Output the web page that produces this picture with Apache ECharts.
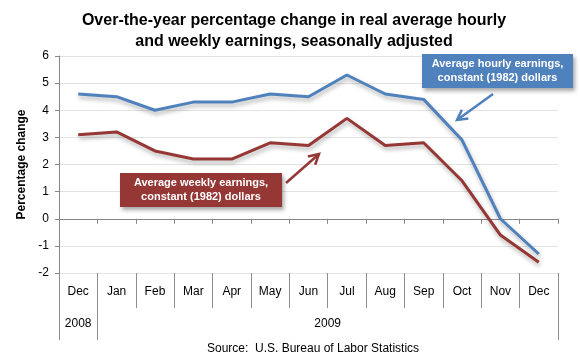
<!DOCTYPE html>
<html>
<head>
<meta charset="utf-8">
<script src="https://cdn.jsdelivr.net/npm/echarts@6/dist/echarts.min.js"></script>
<style>html,body{margin:0;padding:0;background:#fff}#c{width:580px;height:360px}</style>
</head>
<body>
<div id="c"></div>
<script>
var months = ['Dec','Jan','Feb','Mar','Apr','May','Jun','Jul','Aug','Sep','Oct','Nov','Dec'];
var hourly = [4.6, 4.5, 4.0, 4.3, 4.3, 4.6, 4.5, 5.3, 4.6, 4.4, 2.9, 0.0, -1.3];
var weekly = [3.1, 3.2, 2.5, 2.2, 2.2, 2.8, 2.7, 3.7, 2.7, 2.8, 1.4, -0.6, -1.6];
var yearLabels = ['2008', '2009'];
var yTicks = [-2, -1, 0, 1, 2, 3, 4, 5, 6];

var FONT = 'Liberation Sans, Arial, sans-serif';
var chart = echarts.init(document.getElementById('c'), null, {renderer: 'canvas'});

function arrow(x1, y1, x2, y2, color) {
  var dx = x2 - x1, dy = y2 - y1, L = Math.sqrt(dx*dx + dy*dy);
  var ux = dx / L, uy = dy / L, px = -uy, py = ux, hl = 10, hw = 5.5;
  return [
    {type: 'line', shape: {x1: x1, y1: y1, x2: x2, y2: y2}, style: {stroke: color, lineWidth: 2.5}, z: 50},
    {type: 'polyline', shape: {points: [
      [x2 - ux*hl + px*hw, y2 - uy*hl + py*hw], [x2, y2], [x2 - ux*hl - px*hw, y2 - uy*hl - py*hw]
    ]}, style: {stroke: color, lineWidth: 2.5, fill: null}, z: 50}
  ];
}

function box(x, y, w, h, color, text) {
  return [
    {type: 'rect', shape: {x: x, y: y, width: w, height: h},
      style: {fill: color, shadowBlur: 4, shadowOffsetX: 2, shadowOffsetY: 3, shadowColor: 'rgba(0,0,0,0.35)'}, z: 50},
    {type: 'text', x: x + w/2, y: y + h/2, z: 51,
      style: {text: text, fill: '#fff', font: 'bold 11px ' + FONT, align: 'center', verticalAlign: 'middle', lineHeight: 14}}
  ];
}

var graphics = []
  .concat(box(422, 54, 151, 34, '#4F81BD', 'Average hourly earnings,\nconstant (1982) dollars'))
  .concat(arrow(493, 94, 457, 120, '#4F81BD'))
  .concat(box(120, 173, 162, 34, '#953735', 'Average weekly earnings,\nconstant (1982) dollars'))
  .concat(arrow(286, 183, 319, 154, '#953735'));

var shadow = {shadowBlur: 4, shadowOffsetX: 1, shadowOffsetY: 3, shadowColor: 'rgba(0,0,0,0.3)'};

chart.setOption({
  animation: false,
  backgroundColor: '#fff',
  title: [
    {text: 'Over-the-year percentage change in real average hourly\nand weekly earnings, seasonally adjusted',
      left: 289, top: 5, textAlign: 'center',
      textStyle: {fontFamily: FONT, fontSize: 16, fontWeight: 'bold', color: '#000', lineHeight: 21}},
    {text: 'Source:  U.S. Bureau of Labor Statistics', left: 308, top: 338, textAlign: 'center',
      textStyle: {fontFamily: FONT, fontSize: 12, fontWeight: 'normal', color: '#000'}}
  ],
  grid: {left: 59, right: 22, top: 56, bottom: 87, containLabel: false},
  xAxis: [
    {type: 'category', data: months, boundaryGap: true,
      axisLine: {onZero: true, lineStyle: {color: '#868686', width: 1}},
      axisTick: {show: true, length: 5, lineStyle: {color: '#868686'}},
      axisLabel: {show: false}, splitLine: {show: false}},
    {type: 'category', data: months, boundaryGap: true, position: 'bottom',
      axisLine: {show: false, onZero: false},
      axisTick: {show: true, length: 35, lineStyle: {color: '#8c8c8c'}},
      axisLabel: {show: true, margin: 13, fontFamily: FONT, fontSize: 12, color: '#000'},
      splitLine: {show: false}},
    {type: 'value', min: 0, max: 13, position: 'bottom',
      axisLine: {show: false, onZero: false},
      axisTick: {show: true, length: 67, customValues: [0, 1, 13], lineStyle: {color: '#8c8c8c'}},
      axisLabel: {show: true, margin: 45, customValues: [0.5, 7], fontFamily: FONT, fontSize: 12, color: '#000',
        formatter: function (v) { return v < 1 ? yearLabels[0] : yearLabels[1]; }},
      splitLine: {show: false}}
  ],
  yAxis: {
    type: 'value', min: yTicks[0], max: yTicks[yTicks.length - 1], interval: 1,
    name: 'Percentage change', nameLocation: 'middle', nameGap: 31, nameRotate: 90,
    nameTextStyle: {fontFamily: FONT, fontSize: 12, fontWeight: 'bold', color: '#000'},
    axisLine: {show: true, lineStyle: {color: '#868686'}},
    axisTick: {show: true, length: 4, lineStyle: {color: '#868686'}},
    axisLabel: {fontFamily: FONT, fontSize: 12, color: '#000', margin: 10},
    splitLine: {show: true, lineStyle: {color: '#e3e3e3', width: 1}}
  },
  series: [
    {name: 'Average hourly earnings', type: 'line', data: hourly, xAxisIndex: 0, symbol: 'none',
      lineStyle: Object.assign({color: '#4F81BD', width: 3}, shadow), z: 5},
    {name: 'Average weekly earnings', type: 'line', data: weekly, xAxisIndex: 0, symbol: 'none',
      lineStyle: Object.assign({color: '#953735', width: 3}, shadow), z: 5}
  ],
  graphic: graphics
});
</script>
</body>
</html>
